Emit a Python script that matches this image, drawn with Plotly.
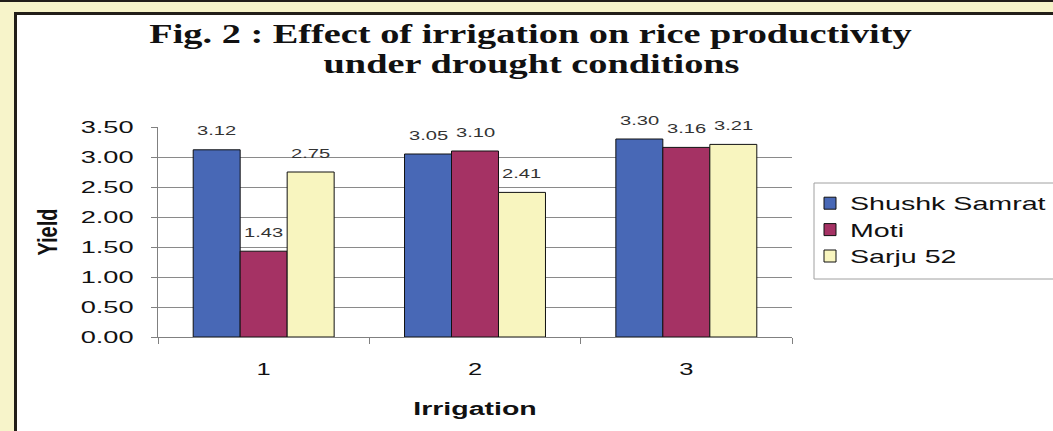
import plotly.graph_objects as go

# Yield of three rice varieties under three irrigation levels
irrigation = ["1", "2", "3"]
varieties = ["Shushk Samrat", "Moti", "Sarju 52"]
shushk_samrat = [3.12, 3.05, 3.30]
moti = [1.43, 3.10, 3.16]
sarju_52 = [2.75, 2.41, 3.21]
y_ticks = [0.0, 0.5, 1.0, 1.5, 2.0, 2.5, 3.0, 3.5]
title_lines = ["Fig. 2 : Effect of irrigation on rice productivity",
               "under drought conditions"]

series = [shushk_samrat, moti, sarju_52]
colors = ["#4868b6", "#a53264", "#f8f5bf"]

W, H = 1053, 431
L, R, T, B = 158, 792, 127, 337   # plot-area box in pixels
BARGAP = 0.333


def px(x):
    return (x - L) / (R - L)


def py(y):
    return (B - y) / (B - T)


fig = go.Figure()
for name, vals, col in zip(varieties, series, colors):
    fig.add_trace(go.Bar(
        x=irrigation, y=vals, name=name,
        marker=dict(color=col, line=dict(color="#111111", width=1)),
        cliponaxis=False,
    ))

# value labels above each bar; category axes place annotations by index,
# then each label is shifted sideways into its bar's slot within the group
bar_px = (R - L) / len(irrigation) * (1 - BARGAP) / len(series)
annotations = []
for i, vals in enumerate(series):
    for k, v in enumerate(vals):
        annotations.append(dict(
            x=k, y=v, xref="x", yref="y", text=f"{v:.2f}",
            showarrow=False, xanchor="center", yanchor="middle",
            xshift=(i - 1) * bar_px, yshift=19,
            font=dict(family="Liberation Sans", size=13, color="#333333"),
        ))

# two-line chart heading
for line, yc in zip(title_lines, [34, 64]):
    annotations.append(dict(
        x=px(531), y=py(yc), xref="paper", yref="paper", text=line,
        showarrow=False, xanchor="center", yanchor="middle",
        font=dict(family="Liberation Serif", size=27, color="#111111",
                  weight="bold"),
    ))

shapes = [
    # white card with dark frame on the cream page
    dict(type="rect", xref="paper", yref="paper", layer="below",
         x0=px(15.5), x1=px(W + 10), y0=py(13.5), y1=py(H + 10),
         fillcolor="#ffffff", line=dict(color="#221e19", width=3)),
    # dark strip along the top edge
    dict(type="rect", xref="paper", yref="paper", layer="below",
         x0=px(-5), x1=px(W + 5), y0=py(-5), y1=py(2),
         fillcolor="#221e19", line=dict(width=0)),
    # legend box
    dict(type="rect", xref="paper", yref="paper", layer="below",
         x0=px(814), x1=px(W + 10), y0=py(183), y1=py(279),
         fillcolor="#ffffff", line=dict(color="#a0a0a0", width=1)),
]

fig.update_layout(
    width=W, height=H,
    margin=dict(l=L, r=W - R, t=T, b=H - B, autoexpand=False),
    paper_bgcolor="#f7f4ca",
    plot_bgcolor="#c0c0c0",
    barmode="group", bargap=BARGAP, bargroupgap=0,
    shapes=shapes,
    annotations=annotations,
    showlegend=True,
    legend=dict(x=px(810), y=py(185), xanchor="left", yanchor="top",
                bgcolor="rgba(0,0,0,0)", borderwidth=0, itemclick=False,
                font=dict(family="Liberation Sans", size=18, color="#111111")),
    font=dict(family="Liberation Sans", color="#111111"),
)

fig.update_xaxes(
    type="category", range=[-0.5, len(irrigation) - 0.5],
    tickson="boundaries", ticks="outside", ticklen=6,
    tickcolor="#808080", showline=True, linecolor="#808080", linewidth=1,
    tickfont=dict(size=17, color="#111111"), ticklabelstandoff=17,
    title=dict(text="Irrigation", standoff=23,
               font=dict(size=19, weight="bold", color="#111111")),
    showgrid=False,
)
fig.update_yaxes(
    range=[0, 3.5], tickvals=y_ticks, tickformat=".2f",
    ticks="outside", ticklen=6, tickcolor="#808080",
    showline=True, linecolor="#808080", linewidth=1,
    gridcolor="#8a8a8a", gridwidth=1, zeroline=False,
    tickfont=dict(size=17, color="#111111"), ticklabelstandoff=14,
    title=dict(text="Yield", standoff=40,
               font=dict(size=20, weight="bold", color="#111111")),
)

# The artwork uses wide, horizontally stretched lettering; widen each text
# element about its own anchor point (rotated titles are widened across).
# Runs again after later redraws; already-widened texts are skipped.
widen = """
var gd = document.getElementById('{plot_id}');
function widenOne(t, s) {
  var tr = t.getAttribute('transform') || '';
  var done = t.getAttribute('data-wide');
  if (done && tr.slice(-done.length) === done) return;
  var b = t.getBBox();
  var extra;
  if (/rotate\\(\\s*-?90/.test(tr)) {
    var cy = b.y + b.height / 2;
    extra = 'translate(0,' + cy + ') scale(1,' + s + ') translate(0,' + (-cy) + ')';
  } else {
    var a = t.getAttribute('text-anchor') || 'start';
    var p = a === 'end' ? b.x + b.width : (a === 'middle' ? b.x + b.width / 2 : b.x);
    extra = 'translate(' + p + ',0) scale(' + s + ',1) translate(' + (-p) + ',0)';
  }
  t.setAttribute('data-wide', extra);
  t.setAttribute('transform', (tr + ' ' + extra).trim());
}
function widen(sel, s) {
  gd.querySelectorAll(sel).forEach(function (t) { widenOne(t, s); });
}
function applyWide() {
  widen('.ytick text', 1.6);
  widen('.xtick text', 1.5);
  widen('.g-xtitle text', 1.5);
  widen('.g-ytitle text', 1.4);
  widen('.legendtext', 1.59);
  gd.querySelectorAll('.annotation-text').forEach(function (t) {
    var big = parseFloat(t.style.fontSize || '0') > 20;
    widenOne(t, big ? 1.42 : 1.55);
  });
  gd.querySelectorAll('.infolayer [clip-path]').forEach(function (e) {
    if (e.closest('g.legend')) e.removeAttribute('clip-path');
  });
}
applyWide();
if (gd.on) gd.on('plotly_afterplot', applyWide);
requestAnimationFrame(applyWide);
setTimeout(applyWide, 30);
setTimeout(applyWide, 200);
"""

fig.write_html("out.html", post_script=widen)
